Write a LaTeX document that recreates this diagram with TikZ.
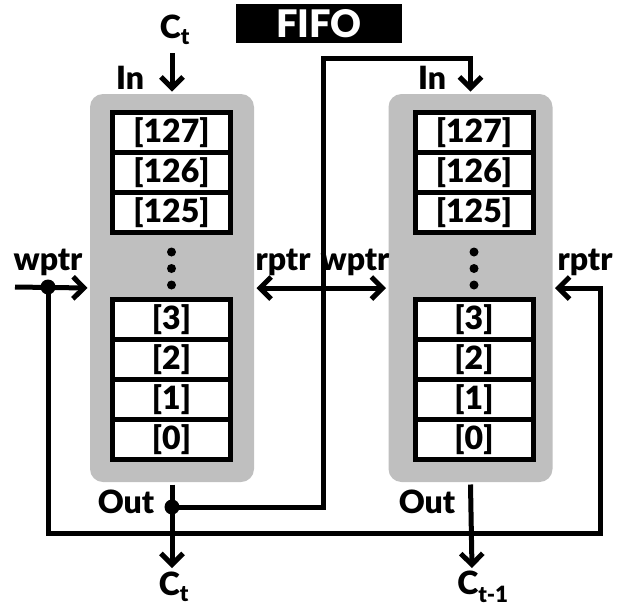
\documentclass[tikz,border=0pt]{standalone}
\usepackage{fontspec}
\setmainfont{Lato}[BoldFont={Lato Black}]
\usetikzlibrary{arrows.meta,positioning}

\begin{document}
\begin{tikzpicture}[x=1pt,y=-1pt,>={Straight Barb[length=11pt,width=22pt]},
 line width=5pt,font=\fontsize{32}{34}\selectfont\bfseries,
 fifo/.style={fill=black!25,rounded corners=13pt,minimum width=164pt,minimum height=388pt,inner sep=0pt},
 cell/.style={draw,fill=white,outer sep=0pt,minimum width=118pt,minimum height=40pt,inner sep=0pt},
 dot/.style={circle,fill,inner sep=0pt,minimum size=15pt},
 vdot/.style={circle,fill,inner sep=0pt,minimum size=9pt},
 arr/.style={->},
 lab/.style={inner sep=0pt}]
\useasboundingbox (0,0) rectangle (622,606);
% title
\node[fill=black,text=white,minimum width=166pt,minimum height=39pt,inner sep=0pt,
 font=\fontsize{38}{40}\selectfont\bfseries] (title) at (319,23.5) {FIFO};
% the two buffers
\node[fifo] (fifoA) at (172,288) {};
\node[fifo] (fifoB) at (470.5,288) {};
\node[cell] (a127) at (171.5,132.5) {[127]};
\node[cell,below=0pt of a127] (a126) {[126]};
\node[cell,below=0pt of a126] (a125) {[125]};
\node[vdot] (ad1) at (171.5,252) {};
\node[vdot] (ad2) at (171.5,268.5) {};
\node[vdot] (ad3) at (171.5,285) {};
\node[cell] (a3) at (171.5,319.5) {[3]};
\node[cell,below=0pt of a3] (a2) {[2]};
\node[cell,below=0pt of a2] (a1) {[1]};
\node[cell,below=0pt of a1] (a0) {[0]};
\node[cell] (b127) at (474,132.5) {[127]};
\node[cell,below=0pt of b127] (b126) {[126]};
\node[cell,below=0pt of b126] (b125) {[125]};
\node[vdot] (bd1) at (474,252) {};
\node[vdot] (bd2) at (474,268.5) {};
\node[vdot] (bd3) at (474,285) {};
\node[cell] (b3) at (474,319.5) {[3]};
\node[cell,below=0pt of b3] (b2) {[2]};
\node[cell,below=0pt of b2] (b1) {[1]};
\node[cell,below=0pt of b1] (b0) {[0]};
% labels
\node[lab] (ctIn) at (175,30) {C\textsubscript{t}};
\node[lab] (inA) at (130,78) {In};
\node[lab] (inB) at (432,78) {In};
\node[lab] (wpA) at (48,262) {wptr};
\node[lab] (rpA) at (283,262) {rptr};
\node[lab] (wpB) at (355,262) {wptr};
\node[lab] (rpB) at (585,262) {rptr};
\node[lab] (outA) at (126,502) {Out};
\node[lab] (outB) at (427,502) {Out};
\node[lab] (ctOut) at (174,587) {C\textsubscript{t}};
\node[lab] (ctOld) at (483,587) {C\textsubscript{t-1}};
% junctions and bends
\node[dot] (jw) at (48,287) {};
\node[dot] (jo) at (172,507) {};
\coordinate (wIn) at (15,287);
\coordinate (cIn) at (172,53);
\coordinate (up) at (323,58);
\coordinate (fb) at (600,533);
\coordinate (endA) at (172,568);
\coordinate (endB) at (472,568);
% connectors
\draw[arr] (cIn) -- (fifoA.north);
\draw[arr] (wIn) -- (fifoA.west);
\draw[<->] (fifoA.east) -- (fifoB.west);
\draw[arr] (jw.center) |- (fb) |- (fifoB.east);
\draw (fifoA.south) -- (jo.center);
\draw[arr] (jo.center) -- (endA);
\draw[arr] (jo.center) -| (up) -| (fifoB.north);
\draw[arr] (fifoB.south) -- (endB);
\end{tikzpicture}
\end{document}
